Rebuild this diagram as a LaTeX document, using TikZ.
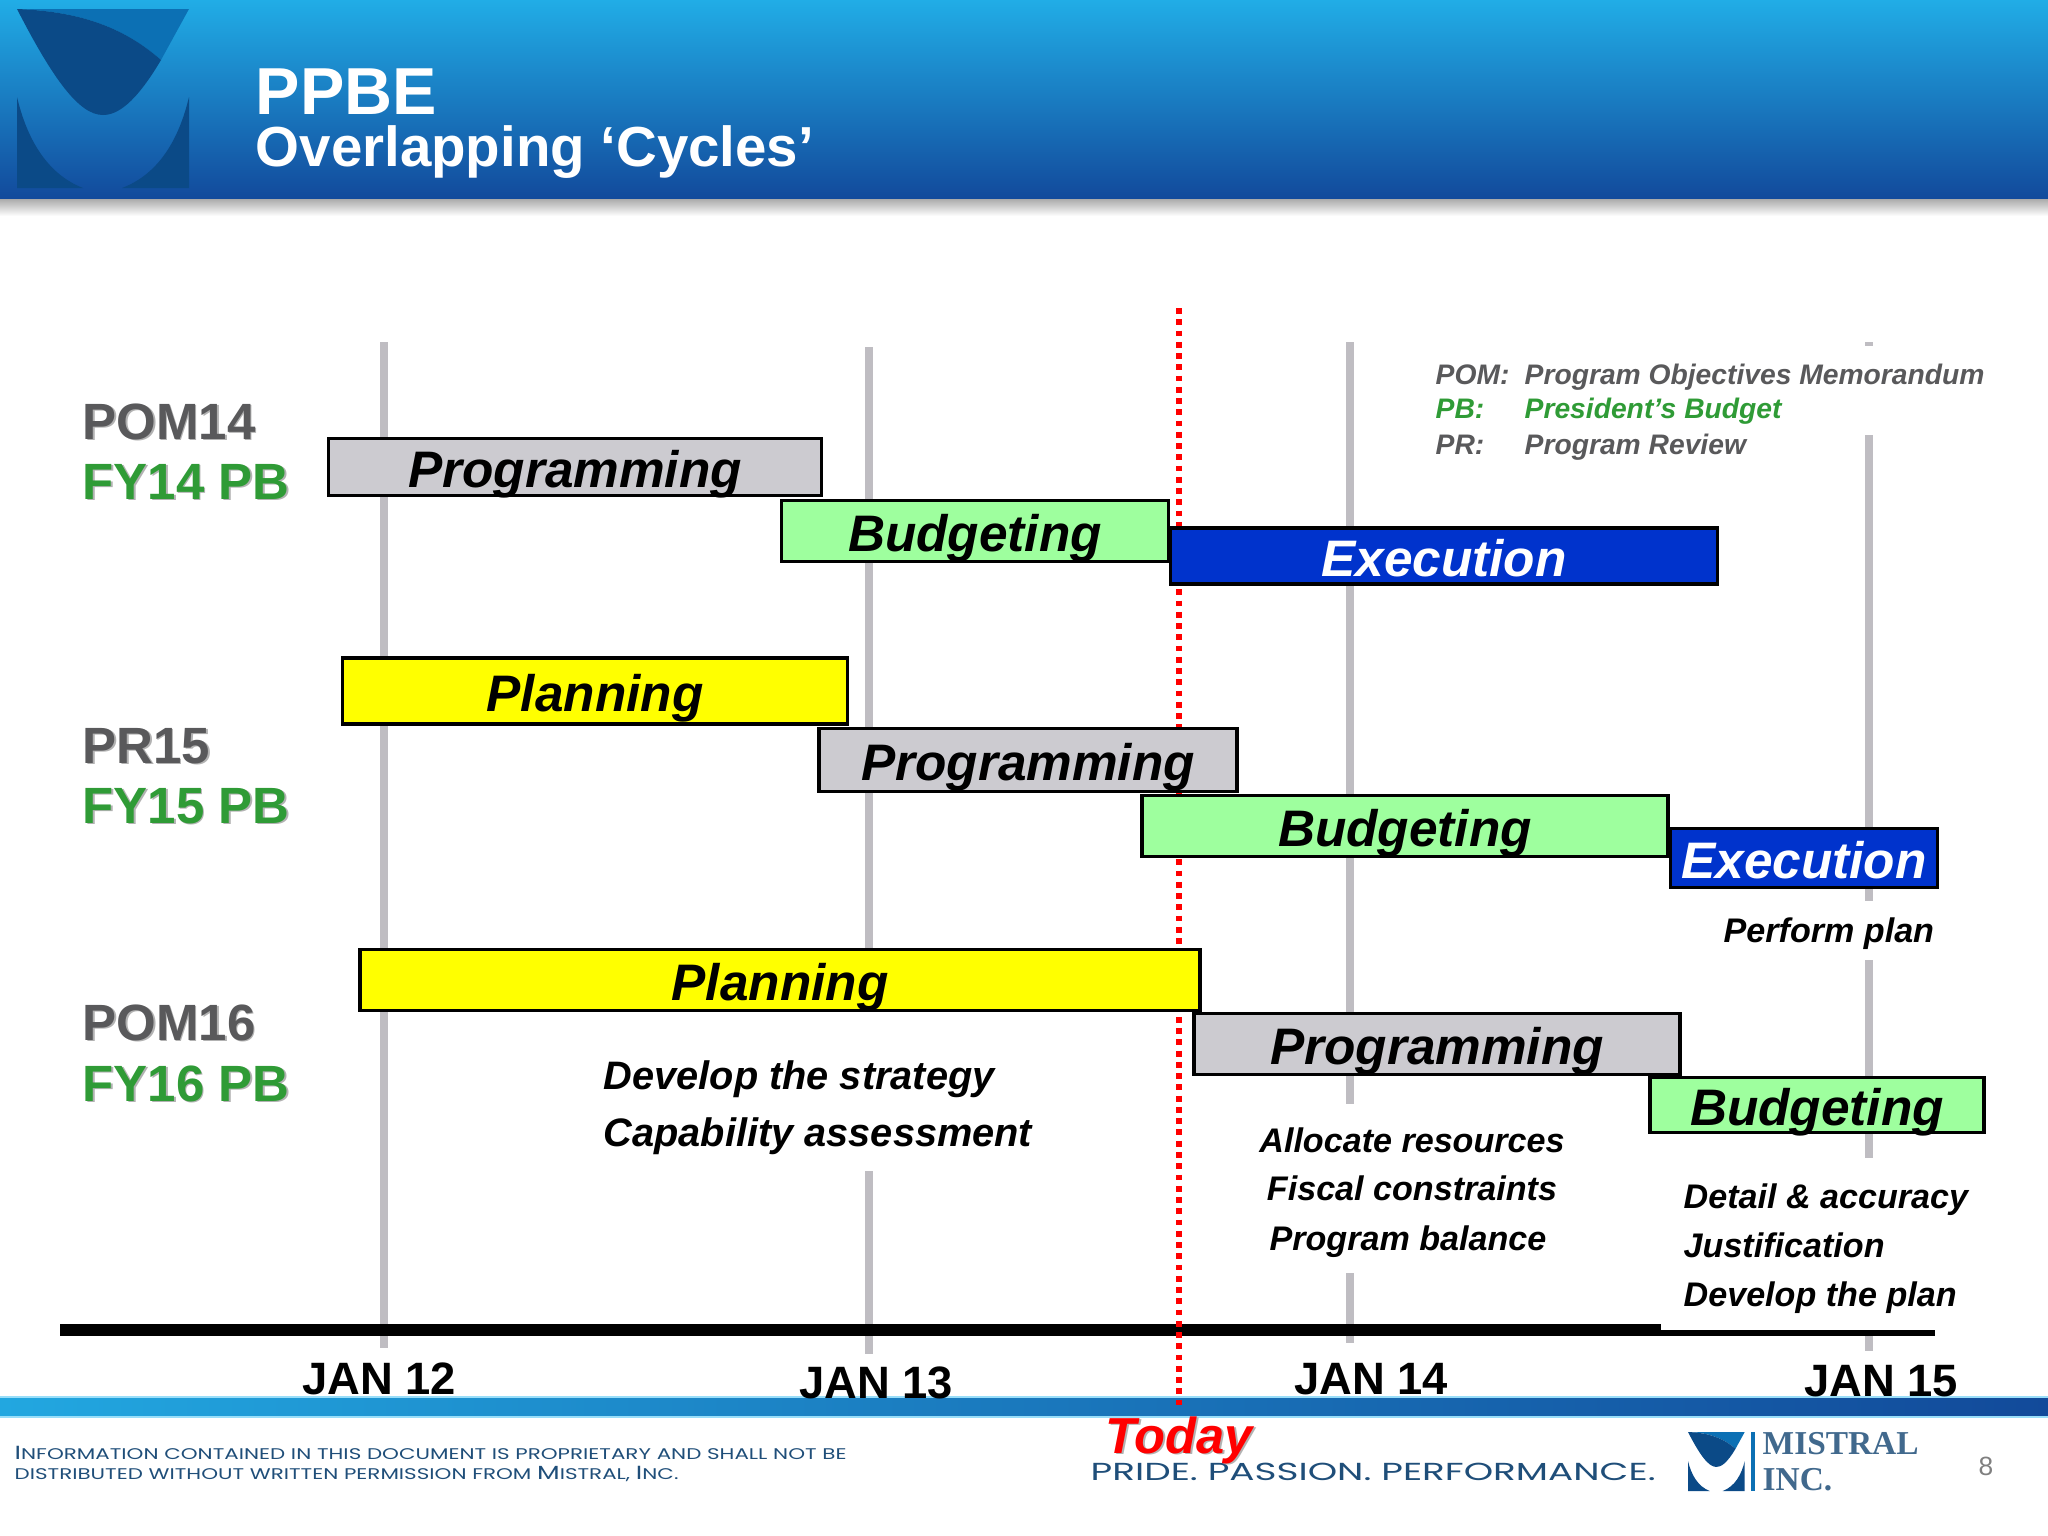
\documentclass[tikz,border=0pt]{standalone}
\usepackage{xcolor}
\usepackage{fontspec}
\setmainfont{Liberation Sans}
\newfontfamily\footfont[FakeStretch=1.385]{Poppins}
\newfontfamily\mottofont[FakeStretch=1.52]{Poppins}
\newfontfamily\markfont{Liberation Serif}
\usepackage{tikz}
\usetikzlibrary{positioning}

\definecolor{barblue}{HTML}{0033CC}
\definecolor{bargreen}{HTML}{9EFF9E}
\definecolor{bargray}{HTML}{CCCBD0}
\definecolor{baryellow}{HTML}{FFFF00}
\definecolor{markdark}{HTML}{0B4A87}
\definecolor{markmid}{HTML}{0C70B4}
\definecolor{linegray}{HTML}{BFBDC2}
\definecolor{pomgray}{HTML}{59595B}
\definecolor{pbgreen}{HTML}{2F9B36}
\definecolor{footblue}{HTML}{1F4E79}

\newcommand{\fsz}[1]{\fontsize{#1}{#1}\selectfont}
\newcommand{\softshadow}[1]{\leavevmode\rlap{\kern0.4pt\raisebox{-0.4pt}{\textcolor{black!30}{#1}}}#1}

% logo mark, drawn on a 172 x 179 grid
\newcommand{\mistralmark}[1]{
  \begin{scope}[#1]
    \fill[markmid] (0,0) -- (172,0) -- (144,51) .. controls (100,12) and (50,2) .. (0,0) -- cycle;
    \fill[markdark] (0,0) .. controls (50,2) and (100,12) .. (144,51)
        .. controls (118,95) and (100,106) .. (86,106)
        .. controls (62,106) and (36,70) .. (0,0) -- cycle;
    \fill[markdark] (0,88) .. controls (10,130) and (30,165) .. (66,179) -- (0,179) -- cycle;
    \fill[markdark] (172,88) .. controls (162,130) and (142,165) .. (105,179) -- (172,179) -- cycle;
  \end{scope}
}

\begin{document}
\begin{tikzpicture}[x=0.01cm, y=-0.01cm,
    bar/.style={rectangle, draw=black, line width=1pt, inner sep=0pt, font=\bfseries\itshape\fsz{14.6}, text height=0.46cm, text depth=0.06cm},
    sidelabel/.style={anchor=base west, inner sep=0pt, font=\bfseries\fsz{14.5}},
    note/.style={anchor=base west, inner sep=0pt, font=\bfseries\itshape\fsz{9.7}},
    year/.style={anchor=base, inner sep=0pt, font=\bfseries\fsz{12.9}},
    legend/.style={anchor=base west, inner sep=0pt, font=\bfseries\itshape\fsz{8.03}},
    gridline/.style={linegray, line width=2.2pt},
    todayline/.style={red, line width=1.65pt, dash pattern=on 1.65pt off 1.55pt},
    cover/.style={fill=white, draw=none}]

    \useasboundingbox (0,0) rectangle (2048,1536);

    % header
    \shade[top color=white, bottom color=black!35, shading angle=180] (0,198) rectangle (2048,216);
    \shade[top color={rgb,255:red,33;green,173;blue,230}, middle color={rgb,255:red,28;green,130;blue,204}, bottom color={rgb,255:red,18;green,74;blue,156}] (0,0) rectangle (2048,198);
    \mistralmark{shift={(17,9)}}
    \node[anchor=base west, inner sep=0pt, text=white, font=\bfseries\fsz{18.9}] (title) at (255,114) {PPBE};
    \node[anchor=base west, inner sep=0pt, text=white, font=\bfseries\fsz{16.05}] (subtitle) at (255,166) {Overlapping ‘Cycles’};

    % footer band
    \shade[left color={rgb,255:red,34;green,167;blue,224}, right color={rgb,255:red,18;green,74;blue,154}] (0,1397) rectangle (2048,1417);
    \draw[cyan!40, line width=0.3pt] (0,1397) -- (2048,1397) (0,1417) -- (2048,1417);

    % year lines
    \foreach \xpos/\ytop/\ybot in {384/342/1348, 869/347/1354, 1350/342/1343, 1869/435/1351}
        \draw[gridline] (\xpos,\ytop) -- (\xpos,\ybot);
    \draw[gridline, line width=1pt] (1865,344) -- (1873,344);

    % white boxes behind notes
    \fill[cover] (600,1012) rectangle (1040,1171);
    \fill[cover] (1240,1104) rectangle (1590,1273);
    \fill[cover] (1680,1158) rectangle (1990,1332);
    \fill[cover] (1700,901) rectangle (1950,960);

    % time axis
    \coordinate (axisl) at (60,1330);
    \coordinate (axism) at (1661,1330);
    \coordinate (axisn) at (1661,1333);
    \coordinate (axisr) at (1935,1333);
    \draw[black, line width=3.4pt] (axisl) -- (axism);
    \draw[black, line width=1.6pt] (axisn) -- (axisr);

    % today
    \coordinate (todaytop) at (1179,308);
    \coordinate (todaybot) at (1179,1406);
    \draw[todayline] (todaytop) -- (todaybot);

    % bars
    \node[bar, fill=bargray, minimum width=4.93cm, minimum height=0.57cm] (prog14) at (575,467) {Programming};
    \node[bar, fill=bargreen, minimum width=3.87cm, minimum height=0.61cm] (budg14) at (975,531) {Budgeting};
    \node[bar, fill=barblue, text=white, minimum width=5.47cm, minimum height=0.56cm] (exec14) at (1444,556) {Execution};

    \node[bar, fill=baryellow, minimum width=5.05cm, minimum height=0.66cm] (plan15) at (595,691) {Planning};
    \node[bar, fill=bargray, minimum width=4.18cm, minimum height=0.63cm] (prog15) at (1028,760) {Programming};
    \node[bar, fill=bargreen, minimum width=5.26cm, minimum height=0.61cm] (budg15) at (1405,826) {Budgeting};
    \node[bar, fill=barblue, text=white, minimum width=2.67cm, minimum height=0.59cm] (exec15) at (1804,858) {Execution};

    \node[bar, fill=baryellow, minimum width=8.4cm, minimum height=0.61cm] (plan16) at (780,980) {Planning};
    \node[bar, fill=bargray, minimum width=4.86cm, minimum height=0.61cm] (prog16) at (1437,1044) {Programming};
    \node[bar, fill=bargreen, minimum width=3.34cm, minimum height=0.55cm] (budg16) at (1817,1105) {Budgeting};

    % side labels
    \node[sidelabel, text=pomgray] (pom14) at (82,439) {\softshadow{POM14}};
    \node[sidelabel, text=pbgreen] (pb14) at (82,499) {\softshadow{FY14 PB}};
    \node[sidelabel, text=pomgray] (pr15) at (82,763) {\softshadow{PR15}};
    \node[sidelabel, text=pbgreen] (pb15) at (82,823) {\softshadow{FY15 PB}};
    \node[sidelabel, text=pomgray] (pom16) at (82,1040) {\softshadow{POM16}};
    \node[sidelabel, text=pbgreen] (pb16) at (82,1101) {\softshadow{FY16 PB}};

    % legend
    \node[legend, text=pomgray] (lgpom) at (1435,384) {POM:};
    \node[legend, text=pomgray] (lgpomtxt) at (1524,384) {Program Objectives Memorandum};
    \node[legend, text=pbgreen] (lgpb) at (1435,418) {PB:};
    \node[legend, text=pbgreen] (lgpbtxt) at (1524,418) {President’s Budget};
    \node[legend, text=pomgray] (lgpr) at (1435,454) {PR:};
    \node[legend, text=pomgray] (lgprtxt) at (1524,454) {Program Review};

    % notes
    \node[note] (perform) at (1723,942) {Perform plan};
    \node[note, font=\bfseries\itshape\fsz{11.3}] (strategy) at (603,1089) {Develop the strategy};
    \node[note, font=\bfseries\itshape\fsz{11.3}] (capability) at (603,1146) {Capability assessment};
    \node[note, anchor=base] (allocate) at (1412,1152) {Allocate resources};
    \node[note, anchor=base] (fiscal) at (1412,1200) {Fiscal constraints};
    \node[note, anchor=base] (balance) at (1408,1250) {Program balance};
    \node[note] (detail) at (1683,1208) {Detail \& accuracy};
    \node[note] (justify) at (1683,1257) {Justification};
    \node[note] (plan) at (1683,1306) {Develop the plan};

    % years
    \node[year] (jan12) at (379,1394) {JAN 12};
    \node[year] (jan13) at (876,1398) {JAN 13};
    \node[year] (jan14) at (1371,1394) {JAN 14};
    \node[year] (jan15) at (1881,1396) {JAN 15};

    % footer
    \node[anchor=base west, inner sep=0pt, text=footblue, align=left, font=\footfont\fsz{4.4}] (info) at (14,1459) {{\fsz{5.4}I}NFORMATION CONTAINED IN THIS DOCUMENT IS PROPRIETARY AND SHALL NOT BE};
    \node[anchor=base west, inner sep=0pt, text=footblue, align=left, font=\footfont\fsz{4.4}] (info2) at (14,1479) {DISTRIBUTED WITHOUT WRITTEN PERMISSION FROM {\fsz{5.4}M}ISTRAL, {\fsz{5.4}I}NC.};
    \node[anchor=base west, inner sep=0pt, text=footblue, font=\mottofont\fsz{7}] (motto) at (1090,1480) {PRIDE. PASSION. PERFORMANCE.};
    \node[anchor=base west, inner sep=0pt, text=red, font=\bfseries\itshape\fsz{14.4}] (today) at (1105,1453) {\softshadow{Today}};

    \mistralmark{shift={(1688,1432)}, x=0.0033cm, y=-0.0033cm}
    \fill[markmid] (1751,1432) rectangle (1755,1491);
    \node[anchor=base west, inner sep=0pt, text=footblue!85, font=\markfont\bfseries\fsz{9.5}] (mistral) at (1762,1454) {MISTRAL};
    \node[anchor=base west, inner sep=0pt, text=footblue!85, font=\markfont\bfseries\fsz{9.5}] (inc) at (1762,1490) {INC.};
    \node[anchor=base, inner sep=0pt, text=gray, font=\fsz{7.5}] (pagenum) at (1986,1475) {8};
\end{tikzpicture}
\end{document}
